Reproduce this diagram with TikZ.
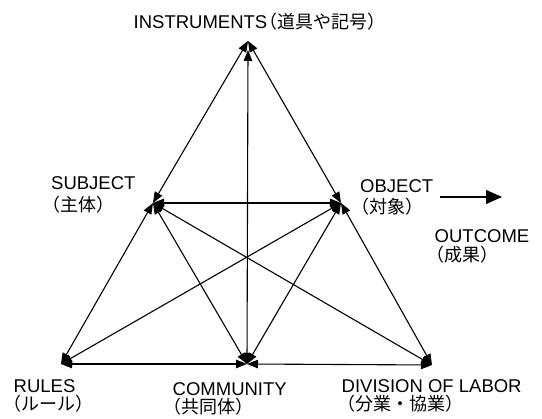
\documentclass[tikz,border=0pt]{standalone}
\usepackage{fontspec}
\setmainfont{Liberation Sans}
\newfontfamily\jfont{Noto Sans CJK JP}
\usetikzlibrary{arrows.meta}
\newcommand\latsz{\fontsize{18.5}{22}\selectfont}
\newcommand\jp[1]{{\jfont\fontsize{18}{22}\selectfont #1}}
\begin{document}
\begin{tikzpicture}[x=1pt,y=-1pt,
  lbl/.style={inner sep=0pt,anchor=base west,font=\latsz,text height=13.5pt,text depth=0.5pt},
  jlbl/.style={inner sep=0pt,anchor=base west,text height=14pt,text depth=2pt},
  link/.style={line width=1.1pt,{Triangle[length=11pt,width=8.5pt]}-{Triangle[length=11pt,width=8.5pt]}},
  outarrow/.style={line width=1.1pt,-{Triangle[length=16pt,width=14pt]}}]
\useasboundingbox (0,0) rectangle (542,419);
% vertices
\coordinate (I) at (248,41);
\coordinate (Ib) at (248,50);
\coordinate (S) at (153,203);
\coordinate (O) at (341,203);
\coordinate (R) at (61,364);
\coordinate (C) at (247,364);
\coordinate (D) at (432,365);
\coordinate (outA) at (440,197);
\coordinate (outB) at (502,197);
% labels
\node[lbl,text depth=2pt] (tI) at (133.5,28.5) {INSTRUMENTS\jp{\kern-0.45em（道具や記号）}};
\node[lbl] (tS1) at (51,189.5) {SUBJECT};
\node[jlbl] (tS2) at (42,212) {\jp{（主体）}};
\node[lbl] (tO1) at (360,193) {OBJECT};
\node[jlbl] (tO2) at (351,213.5) {\jp{（対象）}};
\node[lbl] (tU1) at (434.5,243) {OUTCOME};
\node[jlbl] (tU2) at (426,261.5) {\jp{（成果）}};
\node[lbl] (tR1) at (13.5,392.5) {RULES};
\node[jlbl] (tR2) at (3,410.5) {\jp{（ルール）}};
\node[lbl] (tC1) at (172.5,395.5) {COMMUNITY};
\node[jlbl] (tC2) at (163,413.5) {\jp{（共同体）}};
\node[lbl] (tD1) at (341.5,392.5) {DIVISION OF LABOR};
\node[jlbl] (tD2) at (337,410.5) {\jp{（分業・協業）}};
% connectors
\draw[link] (S) -- (I);
\draw[link] (O) -- (I);
\draw[link] (C) -- (Ib);
\draw[link] (S) -- (O);
\draw[link] (S) -- (R);
\draw[link] (S) -- (C);
\draw[link] (S) -- (D);
\draw[link] (O) -- (R);
\draw[link] (O) -- (C);
\draw[link] (O) -- (D);
\draw[link] (R) -- (C);
\draw[link] (C) -- (D);
\draw[outarrow] (outA) -- (outB);
\end{tikzpicture}
\end{document}
